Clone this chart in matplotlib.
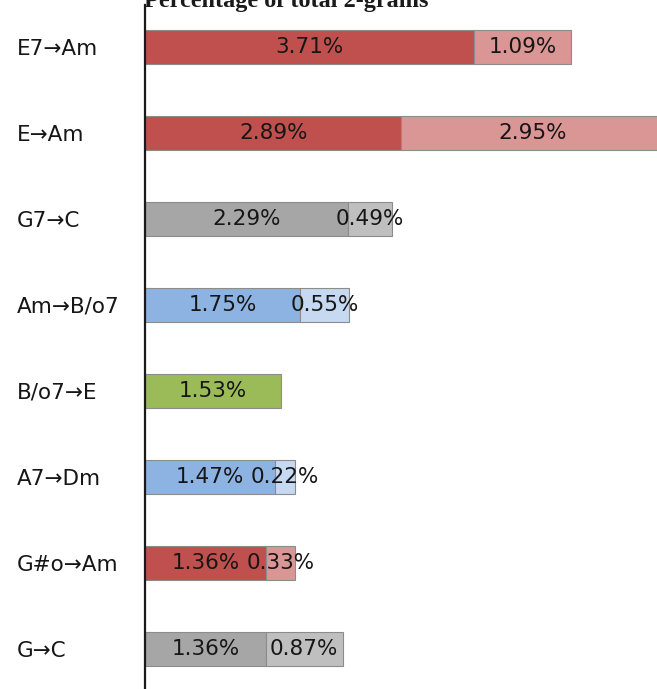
import matplotlib.pyplot as plt
import numpy as np

# two-gram transitions, most frequent first
transitions = ['E7→Am', 'E→Am', 'G7→C', 'Am→B/o7', 'B/o7→E', 'A7→Dm', 'G#o→Am', 'G→C']
first_pct = [3.71, 2.89, 2.29, 1.75, 1.53, 1.47, 1.36, 1.36]
second_pct = [1.09, 2.95, 0.49, 0.55, 0.0, 0.22, 0.33, 0.87]
families = ['red', 'red', 'gray', 'blue', 'green', 'blue', 'red', 'gray']

dark = {'red': '#c0504d', 'gray': '#a6a6a6', 'blue': '#8db3e2', 'green': '#9bbb59'}
light = {'red': '#d99694', 'gray': '#bfbfbf', 'blue': '#c6d9f1', 'green': '#c3d69b'}

W, H = 657, 689
fig = plt.figure(figsize=(W / 100, H / 100), dpi=100)
ax = fig.add_axes([145 / W, 0, 1 - 145 / W, 1 - 5 / H])

ypos = np.arange(len(transitions))
ax.set_xlim(0, (W - 145) / 88.7)
ax.set_ylim(7.465, -0.488)

txt = dict(ha='center', va='center', fontsize=15.5, color='#161616',
           family='DejaVu Sans', clip_on=False)

for y, a, b, fam in zip(ypos, first_pct, second_pct, families):
    ax.barh(y, a, height=0.4, color=dark[fam], edgecolor='#8c8c8c', linewidth=0.8)
    ax.text(a / 2, y, f'{a:.2f}%', **txt)
    if b > 0:
        ax.barh(y, b, left=a, height=0.4, color=light[fam],
                edgecolor='#8c8c8c', linewidth=0.8)
        ax.text(a + b / 2, y, f'{b:.2f}%', **txt)

ax.set_yticks(ypos)
ax.set_yticklabels(transitions, ha='left', fontsize=15.5, color='#161616',
                   family='DejaVu Sans')
ax.tick_params(axis='y', length=0, pad=128 * 72 / 100)
ax.set_xticks([])

for side in ('top', 'right', 'bottom'):
    ax.spines[side].set_visible(False)
ax.spines['left'].set_color('#1a1a1a')
ax.spines['left'].set_linewidth(1.6)

fig.text(286 / W, 1 - 7 / H, 'Percentage of total 2-grams', ha='center',
         va='baseline', fontsize=17.5, fontweight='bold', family='Liberation Serif',
         color='#1a1a1a')

fig.savefig('out.png', dpi=100)
